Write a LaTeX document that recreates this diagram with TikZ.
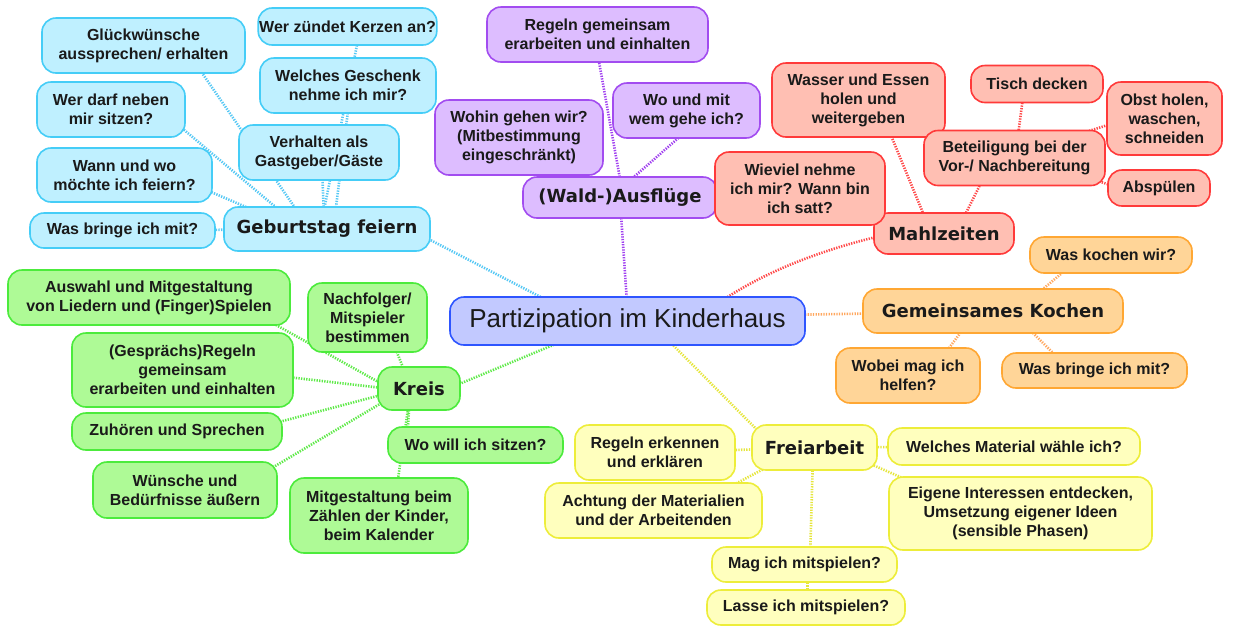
\documentclass[tikz,border=0pt]{standalone}
\usepackage{fontspec}
\setmainfont{Liberation Sans}
\newfontfamily\dejavu{DejaVu Sans}
\usetikzlibrary{calc,backgrounds}
\newcommand\leaffont{\bfseries\fontsize{16}{19}\selectfont}
\newcommand\branchfont{\dejavu\bfseries\fontsize{18}{21}\selectfont}
\newcommand\rootfont{\fontsize{26}{30}\selectfont}
\definecolor{txt}{HTML}{1A1A1A}
\definecolor{blF}{HTML}{BFF0FF}\definecolor{blB}{HTML}{45CDF7}\definecolor{blL}{HTML}{55C8F5}
\definecolor{puF}{HTML}{DDBDFF}\definecolor{puB}{HTML}{A24CF0}\definecolor{puL}{HTML}{A040F0}
\definecolor{reF}{HTML}{FFBFB3}\definecolor{reB}{HTML}{FF3A3A}\definecolor{reL}{HTML}{FF4848}
\definecolor{orF}{HTML}{FFD598}\definecolor{orB}{HTML}{FFA733}\definecolor{orL}{HTML}{FFA860}
\definecolor{yeF}{HTML}{FFFFBE}\definecolor{yeB}{HTML}{EDED3A}\definecolor{yeL}{HTML}{E6E63C}
\definecolor{grF}{HTML}{AEFA96}\definecolor{grB}{HTML}{4CEB3C}\definecolor{grL}{HTML}{5EEA48}
\definecolor{ceF}{HTML}{C2C9FF}\definecolor{ceB}{HTML}{2E55FF}
\tikzset{
  box/.style={rounded corners=14pt, line width=1.6pt, inner sep=1pt, align=center, text=txt, font=\leaffont},
  sz/.style 2 args={minimum width=#1, minimum height=#2},
  blbox/.style={box, draw=blB, fill=blF},
  pubox/.style={box, draw=puB, fill=puF},
  rebox/.style={box, draw=reB, fill=reF},
  orbox/.style={box, draw=orB, fill=orF},
  yebox/.style={box, draw=yeB, fill=yeF},
  grbox/.style={box, draw=grB, fill=grF},
  branch/.style={font=\branchfont},
  link/.style={line width=2.6pt, dash pattern=on 1.3pt off 1.3pt},
}
\begin{document}
\begin{tikzpicture}[x=1pt,y=-1pt]
\useasboundingbox (0,0) rectangle (1236,625);
% centre
\node[box, draw=ceB, fill=ceF, font=\rootfont, sz={355}{48}] (center) at (627.5,321) {Partizipation im Kinderhaus};
% blue
\node[blbox, branch, sz={206}{44}] (geb) at (327,229) {Geburtstag feiern};
\node[blbox, sz={203}{55}] (glueck) at (143.5,45.5) {Glückwünsche\\aussprechen/ erhalten};
\node[blbox, sz={169}{37}] (kerzen) at (347.5,26.5) {Wer zündet Kerzen an?};
\node[blbox, sz={176}{55}] (geschenk) at (348,85.5) {Welches Geschenk\\nehme ich mir?};
\node[blbox, sz={148}{55}] (werdarf) at (111,109.5) {Wer darf neben\\mir sitzen?};
\node[blbox, sz={175}{54}] (wann) at (124.5,175) {Wann und wo\\möchte ich feiern?};
\node[blbox, sz={160}{55}] (verhalten) at (319,152.5) {Verhalten als\\Gastgeber/Gäste};
\node[blbox, sz={185}{35}] (wbm) at (122.5,230.5) {Was bringe ich mit?};
% purple
\node[pubox, branch, sz={194}{41}] (aus) at (620,197.5) {(Wald-)Ausflüge};
\node[pubox, sz={221}{55}] (regelnP) at (597.5,34.5) {Regeln gemeinsam\\erarbeiten und einhalten};
\node[pubox, sz={168}{75}] (wohin) at (519,137.5) {Wohin gehen wir?\\(Mitbestimmung\\eingeschränkt)};
\node[pubox, sz={147}{55}] (womit) at (686.5,110.5) {Wo und mit\\wem gehe ich?};
% red
\node[rebox, branch, sz={140}{41}] (mahl) at (944,233.5) {Mahlzeiten};
\node[rebox, sz={173}{74}] (wasser) at (858.5,100) {Wasser und Essen\\holen und\\weitergeben};
\node[rebox, sz={132}{37}] (tisch) at (1037,84) {Tisch decken};
\node[rebox, sz={115}{73}] (obst) at (1164.5,118.5) {Obst holen,\\waschen,\\schneiden};
\node[rebox, sz={181}{55}] (bet) at (1014.5,158) {Beteiligung bei der\\Vor-/ Nachbereitung};
\node[rebox, sz={102}{36}] (absp) at (1159,188) {Abspülen};
\node[rebox, sz={170}{73}] (wieviel) at (800,188.5) {Wieviel nehme\\ich mir? Wann bin\\ich satt?};
% orange
\node[orbox, branch, sz={260}{44}] (kochen) at (993,311) {Gemeinsames Kochen};
\node[orbox, sz={162}{36}] (waskochen) at (1111,255) {Was kochen wir?};
\node[orbox, sz={144}{55}] (wobei) at (908,375.5) {Wobei mag ich\\helfen?};
\node[orbox, sz={185}{35}] (wbm2) at (1094.5,370.5) {Was bringe ich mit?};
% yellow
\node[yebox, branch, sz={125}{45}] (frei) at (814.5,447.5) {Freiarbeit};
\node[yebox, sz={160}{55}] (regelnY) at (655,452.5) {Regeln erkennen\\und erklären};
\node[yebox, sz={217}{55}] (achtung) at (653.5,510.5) {Achtung der Materialien\\und der Arbeitenden};
\node[yebox, sz={252}{37}] (material) at (1014,446.5) {Welches Material wähle ich?};
\node[yebox, sz={263}{73}] (eigene) at (1020.5,513.5) {Eigene Interessen entdecken,\\Umsetzung eigener Ideen\\(sensible Phasen)};
\node[yebox, sz={185}{35}] (mag) at (804.5,564.5) {Mag ich mitspielen?};
\node[yebox, sz={198}{35}] (lasse) at (806,607.5) {Lasse ich mitspielen?};
% green
\node[grbox, branch, sz={82}{43}] (kreis) at (419,388.5) {Kreis};
\node[grbox, sz={282}{55}] (auswahl) at (149,297.5) {Auswahl und Mitgestaltung\\von Liedern und (Finger)Spielen};
\node[grbox, sz={119}{69}] (nachf) at (367.5,317.5) {Nachfolger/\\Mitspieler\\bestimmen};
\node[grbox, sz={221}{74}] (gespr) at (182.5,370) {(Gesprächs)Regeln\\gemeinsam\\erarbeiten und einhalten};
\node[grbox, sz={210}{37}] (zuh) at (177,431.5) {Zuhören und Sprechen};
\node[grbox, sz={184}{56}] (wuen) at (185,490) {Wünsche und\\Bedürfnisse äußern};
\node[grbox, sz={175}{36}] (woich) at (475.5,445) {Wo will ich sitzen?};
\node[grbox, sz={178}{75}] (mitg) at (379,515.5) {Mitgestaltung beim\\Zählen der Kinder,\\beim Kalender};

\begin{scope}[on background layer]
\fill[white] (0,0) rectangle (1236,625);
% blue links
\draw[link, blL] ($(geb)+(53,-15)$) -- ($(center)+(-67.5,-14)$);
\draw[link, blL] (wbm) -- (geb);
\draw[link, blL] ($(wann)+(65.5,8)$) -- ($(geb)+(-67,-16)$);
\draw[link, blL] ($(werdarf)+(59,8.5)$) -- ($(geb)+(-42,-14)$);
\draw[link, blL] ($(glueck)+(56.5,24.5)$) -- ($(geb)+(-27,-14)$);
\draw[link, blL] ($(verhalten)+(3,16.5)$) -- ($(geb)+(-3,-14)$);
\draw[link, blL] ($(geschenk)+(2,9.5)$) -- ($(geb)+(8,-14)$);
\draw[link, blL] ($(kerzen)+(12.5,3.5)$) -- ($(geb)+(-4,-14)$);
% purple links
\draw[link, puL] ($(aus)+(0,2.5)$) -- ($(center)+(0,-11)$);
\draw[link, puL] ($(regelnP)+(-1.5,10.5)$) -- ($(aus)+(2,-7.5)$);
\draw[link, puL] ($(womit)+(13.5,8.5)$) -- ($(aus)+(-1,-7.5)$);
\draw[link, puL] (wohin.center) -- (aus.center);
% red links
\draw[link, reL] ($(mahl)+(-64,2.5)$) .. controls ($(mahl)+(-114,14.5)$) and ($(center)+(142.5,-53)$) .. ($(center)+(92.5,-19)$);
\draw[link, reL] ($(wasser)+(22,10)$) -- ($(mahl)+(-14,-3.5)$);
\draw[link, reL] ($(bet)+(-24.5,7)$) -- ($(mahl)+(11,1.5)$);
\draw[link, reL] (wieviel.center) -- (mahl.center);
\draw[link, reL] ($(tisch)+(-13,6)$) -- ($(bet)+(1.5,-8)$);
\draw[link, reL] ($(obst)+(-24.5,-3.5)$) -- ($(bet)+(45.5,-18)$);
\draw[link, reL] ($(absp)+(-19,7)$) -- ($(bet)+(65.5,17)$);
% orange links
\draw[link, orL] ($(kochen)+(-93,2)$) -- ($(center)+(152.5,-6)$);
\draw[link, orL] ($(kochen)+(37,-11)$) -- ($(waskochen)+(-36,7)$);
\draw[link, orL] ($(kochen)+(-23,9)$) -- ($(wobei)+(32,-15.5)$);
\draw[link, orL] ($(kochen)+(27,9)$) -- ($(wbm2)+(-29.5,-5.5)$);
% yellow links
\draw[link, yeL] ($(frei)+(-39.5,0.5)$) -- ($(center)+(32.5,11)$);
\draw[link, yeL] (regelnY) -- (frei);
\draw[link, yeL] ($(achtung)+(66.5,-18.5)$) -- ($(frei)+(-24.5,7.5)$);
\draw[link, yeL] (frei) -- (material);
\draw[link, yeL] ($(frei)+(35.5,7.5)$) -- ($(eigene)+(-90.5,-23.5)$);
\draw[link, yeL] ($(frei)+(-1.5,7.5)$) -- ($(mag)+(5.5,-4.5)$);
\draw[link, yeL] ($(mag)+(3,0)$) -- ($(lasse)+(1.5,0)$);
% green links
\draw[link, grL] ($(kreis)+(21,3.5)$) -- ($(center)+(-57.5,17)$);
\draw[link, grL] ($(auswahl)+(111,18.5)$) -- ($(kreis)+(-19,5.5)$);
\draw[link, grL] ($(nachf)+(22.5,17.5)$) -- ($(kreis)+(-11,-8.5)$);
\draw[link, grL] ($(gespr)+(87.5,5)$) -- ($(kreis)+(-19,1.5)$);
\draw[link, grL] ($(zuh)+(83,-4.5)$) -- ($(kreis)+(-19,1.5)$);
\draw[link, grL] ($(wuen)+(70,-12)$) -- ($(kreis)+(-19,3.5)$);
\draw[link, grL] ($(woich)+(-68.5,-5)$) -- ($(kreis)+(-9,6.5)$);
\draw[link, grL] ($(mitg)+(16,-15.5)$) -- ($(kreis)+(-9,6.5)$);
\end{scope}
\end{tikzpicture}
\end{document}
